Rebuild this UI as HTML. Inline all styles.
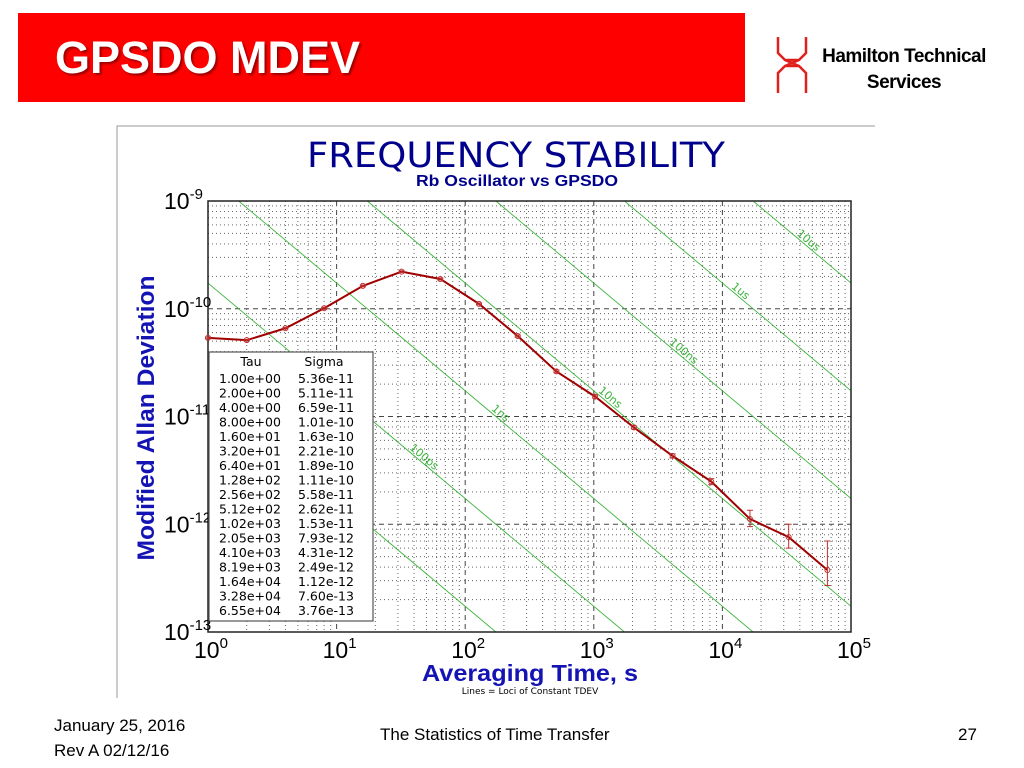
<!DOCTYPE html>
<html><head><meta charset="utf-8"><style>
body{margin:0;width:1024px;height:768px;background:#fff;position:relative;overflow:hidden;font-family:"Liberation Sans",sans-serif}
.abs{position:absolute}
</style></head><body>
<div class="abs" style="left:18px;top:13px;width:727px;height:89px;background:#ff0000"></div>
<div class="abs" style="left:55px;top:32px;font-size:45px;font-weight:bold;color:#fff;text-shadow:2px 2px 2px #900">GPSDO MDEV</div>
<svg class="abs" style="left:775px;top:35px" width="34" height="60"><path d="M3 2V18L10 25H24L31 18V2M3 58V38L10 31H24L31 38V58M10 25L17 28L24 25M10 31L17 28L24 31" fill="none" stroke="#e0201c" stroke-width="2.5"/></svg>
<div class="abs" style="left:812px;top:44px;width:184px;text-align:center;font-size:19px;font-weight:bold;line-height:26px;color:#000;letter-spacing:-0.5px">Hamilton Technical<br>Services</div>
<svg class="abs" style="left:0;top:0" width="1024" height="768" id="chart"></svg>
<div class="abs" style="left:54px;top:713px;font-size:17px;line-height:25px">January 25, 2016<br>Rev A 02/12/16</div>
<div class="abs" style="left:380px;top:725px;font-size:17px">The Statistics of Time Transfer</div>
<div class="abs" style="left:958px;top:725px;font-size:17px">27</div>
<script>
const taus=[1,2,4,8,16,32,64,128,256,512,1024,2048,4096,8192,16384,32768,65536];
const tauLabels=["1.00e+00","2.00e+00","4.00e+00","8.00e+00","1.60e+01","3.20e+01","6.40e+01","1.28e+02","2.56e+02","5.12e+02","1.02e+03","2.05e+03","4.10e+03","8.19e+03","1.64e+04","3.28e+04","6.55e+04"];
const sigmas=[5.36e-11,5.11e-11,6.59e-11,1.01e-10,1.63e-10,2.21e-10,1.89e-10,1.11e-10,5.58e-11,2.62e-11,1.53e-11,7.93e-12,4.31e-12,2.49e-12,1.12e-12,7.60e-13,3.76e-13];
const sigmaLabels=["5.36e-11","5.11e-11","6.59e-11","1.01e-10","1.63e-10","2.21e-10","1.89e-10","1.11e-10","5.58e-11","2.62e-11","1.53e-11","7.93e-12","4.31e-12","2.49e-12","1.12e-12","7.60e-13","3.76e-13"];
const errHi=[5.45e-11,5.2e-11,6.7e-11,1.03e-10,1.66e-10,2.25e-10,1.93e-10,1.13e-10,5.7e-11,2.7e-11,1.58e-11,8.2e-12,4.5e-12,2.65e-12,1.35e-12,1.0e-12,7.0e-13];
const errLo=[5.27e-11,5.02e-11,6.48e-11,0.99e-10,1.6e-10,2.17e-10,1.85e-10,1.09e-10,5.46e-11,2.55e-11,1.48e-11,7.65e-12,4.12e-12,2.33e-12,0.95e-12,0.6e-12,2.7e-13];
const tdevLevels=[1e-11,1e-10,1e-9,1e-8,1e-7,1e-6,1e-5];
const tdevNames=["s","100ps","1ns","10ns","100ns","1us","10us"];
const tdevLabelTau=[1.7,45,177,1260,4700,13000,44000];
const xTicks=[0,1,2,3,4,5];
const yTicks=[-9,-10,-11,-12,-13];

const L=208,R=851,T=201,B=632;
const X=t=>L+(Math.log10(t)-0)*(R-L)/5;
const Y=s=>T+(-9-Math.log10(s))*(B-T)/4;
const svg=document.getElementById('chart');const NS='http://www.w3.org/2000/svg';
function mk(tag,a,txt){const e=document.createElementNS(NS,tag);for(const k in a)e.setAttribute(k,a[k]);if(txt!=null)e.textContent=txt;svg.appendChild(e);return e;}
let e;
e=mk('path',{d:'M117 698V126H875',fill:'none',stroke:'#999','stroke-width':1});

e=mk('text',{x:307,y:167,'font-size':35,fill:'#00008c','font-family':'DejaVu Sans',textLength:418,lengthAdjust:'spacingAndGlyphs'},'FREQUENCY STABILITY');

e=mk('text',{x:416,y:186,'font-size':16,'font-weight':'bold',fill:'#00008c',textLength:202,lengthAdjust:'spacingAndGlyphs'},'Rb Oscillator vs GPSDO');

// grid
for(let d=0;d<5;d++)for(let m=1;m<10;m++){const x=X(Math.pow(10,d)*m);if(m===1&&d===0)continue;
 e=mk('line',{x1:x,x2:x,y1:T,y2:B,stroke:m===1?'#444':'#666','stroke-width':1,'stroke-dasharray':m===1?'5,4':'1,3'});
 }
for(let d=-13;d<-9;d++)for(let m=1;m<10;m++){const y=Y(Math.pow(10,d)*m);if(m===1&&d===-13)continue;
 e=mk('line',{x1:L,x2:R,y1:y,y2:y,stroke:m===1?'#444':'#666','stroke-width':1,'stroke-dasharray':m===1?'5,4':'1,3'});
 }
// tdev lines
const cp=mk('clipPath',{id:'pc'});const r=document.createElementNS(NS,'rect');r.setAttribute('x',L);r.setAttribute('y',T);r.setAttribute('width',R-L);r.setAttribute('height',B-T);cp.appendChild(r);
const ang=Math.atan2((B-T)/4,(R-L)/5)*180/Math.PI;
tdevLevels.forEach((td,i)=>{const f=t=>Math.sqrt(3)*td/t;
 e=mk('line',{x1:X(1),y1:Y(f(1)),x2:X(1e5),y2:Y(f(1e5)),stroke:'#3cb43c','stroke-width':0.9,'clip-path':'url(#pc)'});
 
 const lt=tdevLabelTau[i],lx=X(lt),ly=Y(f(lt));
 e=mk('text',{x:lx,y:ly-2,'text-anchor':'middle','font-size':11,fill:'#3cb43c','font-family':'DejaVu Sans',transform:`rotate(${ang} ${lx} ${ly})`,'clip-path':'url(#pc)'},tdevNames[i]);
 
});
e=mk('rect',{x:L,y:T,width:R-L,height:B-T,fill:'none',stroke:'#222','stroke-width':1.5});

// ticks
xTicks.forEach(p=>{e=mk('text',{x:X(Math.pow(10,p))-14,y:658,'font-size':23,fill:'#000'});
 e.innerHTML='10<tspan dy="-10" font-size="15">'+p+'</tspan>';});
yTicks.forEach(p=>{e=mk('text',{x:164,y:Y(Math.pow(10,p))+8,'font-size':23,fill:'#000'});
 e.innerHTML='10<tspan dy="-10" font-size="15">'+p+'</tspan>';});
e=mk('text',{x:154,y:418,'text-anchor':'middle','font-size':24,'font-weight':'bold',fill:'#1414b4',transform:'rotate(-90 154 418)',textLength:285,lengthAdjust:'spacingAndGlyphs'},'Modified Allan Deviation');

e=mk('text',{x:422,y:681,'font-size':23,'font-weight':'bold',fill:'#1414b4',textLength:216,lengthAdjust:'spacingAndGlyphs'},'Averaging Time, s');

e=mk('text',{x:530,y:694,'text-anchor':'middle','font-size':9,fill:'#000','font-family':'DejaVu Sans'},'Lines = Loci of Constant TDEV');

// series
e=mk('polyline',{points:taus.map((t,i)=>X(t)+','+Y(sigmas[i])).join(' '),fill:'none',stroke:'#a00000','stroke-width':2});

taus.forEach((t,i)=>{const x=X(t);
 e=mk('path',{d:`M${x} ${Y(errHi[i])}V${Y(errLo[i])}M${x-3} ${Y(errHi[i])}h6M${x-3} ${Y(errLo[i])}h6`,stroke:'#c03030','stroke-width':1,fill:'none'});
 
 e=mk('circle',{cx:x,cy:Y(sigmas[i]),r:2.5,fill:'none',stroke:'#c03030','stroke-width':1});
 });
// legend table
e=mk('rect',{x:209,y:352,width:164,height:269,fill:'#fff',stroke:'#555','stroke-width':1.2});

e=mk('text',{x:251,y:366,'text-anchor':'middle','font-size':12.5,fill:'#000','font-family':'DejaVu Sans'},'Tau');

e=mk('text',{x:324,y:366,'text-anchor':'middle','font-size':12.5,fill:'#000','font-family':'DejaVu Sans'},'Sigma');

tauLabels.forEach((s,i)=>{const y=383+i*14.5;
 e=mk('text',{x:219,y:y,'font-size':12.5,fill:'#000','font-family':'DejaVu Sans'},s);
 
 e=mk('text',{x:298,y:y,'font-size':12.5,fill:'#000','font-family':'DejaVu Sans'},sigmaLabels[i]);
 });
</script>
</body></html>
